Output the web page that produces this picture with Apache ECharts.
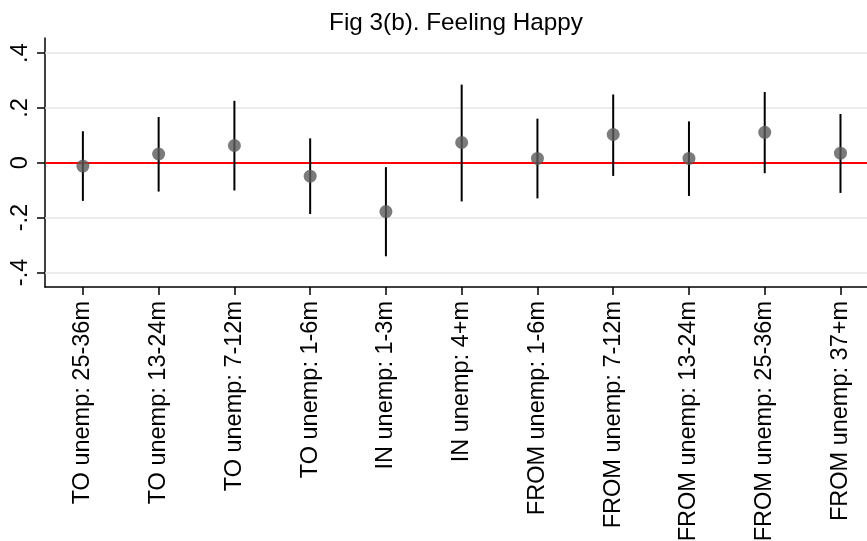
<!DOCTYPE html>
<html>
<head>
<meta charset="utf-8">
<script src="https://cdn.jsdelivr.net/npm/echarts@6/dist/echarts.min.js"></script>
<style>
html,body{margin:0;padding:0;background:#fff;}
#chart{width:867px;height:541px;}
</style>
</head>
<body>
<div id="chart"></div>
<script>
const categories = [
  'TO unemp: 25-36m', 'TO unemp: 13-24m', 'TO unemp: 7-12m', 'TO unemp: 1-6m',
  'IN unemp: 1-3m', 'IN unemp: 4+m',
  'FROM unemp: 1-6m', 'FROM unemp: 7-12m', 'FROM unemp: 13-24m', 'FROM unemp: 25-36m', 'FROM unemp: 37+m'
];
const estimates = [-0.012, 0.032, 0.063, -0.049, -0.178, 0.074, 0.016, 0.103, 0.016, 0.111, 0.035];
const lower = [-0.139, -0.105, -0.101, -0.187, -0.341, -0.141, -0.130, -0.048, -0.121, -0.038, -0.110];
const upper = [0.115, 0.167, 0.226, 0.089, -0.016, 0.285, 0.161, 0.249, 0.151, 0.258, 0.178];
const yTicks = [-0.4, -0.2, 0, 0.2, 0.4];
const yTickLabels = ['-.4', '-.2', '0', '.2', '.4'];
const gridValues = [-0.4, -0.2, 0.2, 0.4];
const titleText = 'Fig 3(b). Feeling Happy';

const FONT = '"Liberation Sans", Arial, Helvetica, sans-serif';
const catIdx = categories.map((c, i) => i);

const chart = echarts.init(document.getElementById('chart'), null, {renderer: 'canvas'});
const markData = gridValues.map(v => ({yAxis: v, lineStyle: {color: '#e6e6e6', width: 1.5, type: 'solid'}}));
markData.push({yAxis: 0, lineStyle: {color: '#ff0000', width: 2, type: 'solid'}});

chart.setOption({
  animation: false,
  backgroundColor: '#ffffff',
  title: {
    text: titleText,
    left: 451,
    textAlign: 'center',
    top: 6,
    textStyle: {fontFamily: FONT, fontSize: 24.3, fontWeight: 'normal', color: '#000'}
  },
  grid: {left: 45, right: 0, top: 38, bottom: 254, containLabel: false, outerBoundsMode: 'none'},
  xAxis: {
    type: 'value',
    min: -0.5,
    max: 10.35,
    axisLine: {show: true, onZero: false, lineStyle: {color: '#000', width: 1.5}},
    axisTick: {show: true, customValues: catIdx, length: 8, lineStyle: {color: '#000', width: 1.5}},
    axisLabel: {
      customValues: catIdx,
      formatter: v => categories[Math.round(v)] || '',
      rotate: 90,
      margin: 14,
      fontFamily: FONT,
      fontSize: 23.5,
      color: '#000'
    },
    splitLine: {show: false}
  },
  yAxis: {
    type: 'value',
    min: -0.453,
    max: 0.455,
    axisLine: {show: true, onZero: false, lineStyle: {color: '#000', width: 1.5}},
    axisTick: {show: true, customValues: yTicks, length: 8, lineStyle: {color: '#000', width: 1.5}},
    axisLabel: {
      customValues: yTicks,
      formatter: v => {
        const i = yTicks.findIndex(t => Math.abs(t - v) < 1e-6);
        return i >= 0 ? yTickLabels[i] : '';
      },
      rotate: 90,
      margin: 12,
      fontFamily: FONT,
      fontSize: 23.5,
      color: '#000'
    },
    splitLine: {show: false}
  },
  series: [
    {
      type: 'custom',
      z: 2,
      silent: true,
      data: catIdx.map(i => [i, lower[i], upper[i]]),
      encode: {x: 0, y: [1, 2]},
      renderItem: (params, api) => {
        const x = api.value(0);
        const lo = api.coord([x, api.value(1)]);
        const hi = api.coord([x, api.value(2)]);
        return {
          type: 'line',
          shape: {x1: lo[0], y1: lo[1], x2: hi[0], y2: hi[1]},
          style: {stroke: '#000', lineWidth: 2}
        };
      },
      markLine: {
        silent: true,
        symbol: 'none',
        label: {show: false},
        z: 1,
        data: markData
      }
    },
    {
      type: 'scatter',
      z: 3,
      silent: true,
      symbol: 'circle',
      symbolSize: 13,
      itemStyle: {color: '#5a5a5a'},
      data: catIdx.map(i => [i, estimates[i]])
    }
  ]
});
</script>
</body>
</html>
